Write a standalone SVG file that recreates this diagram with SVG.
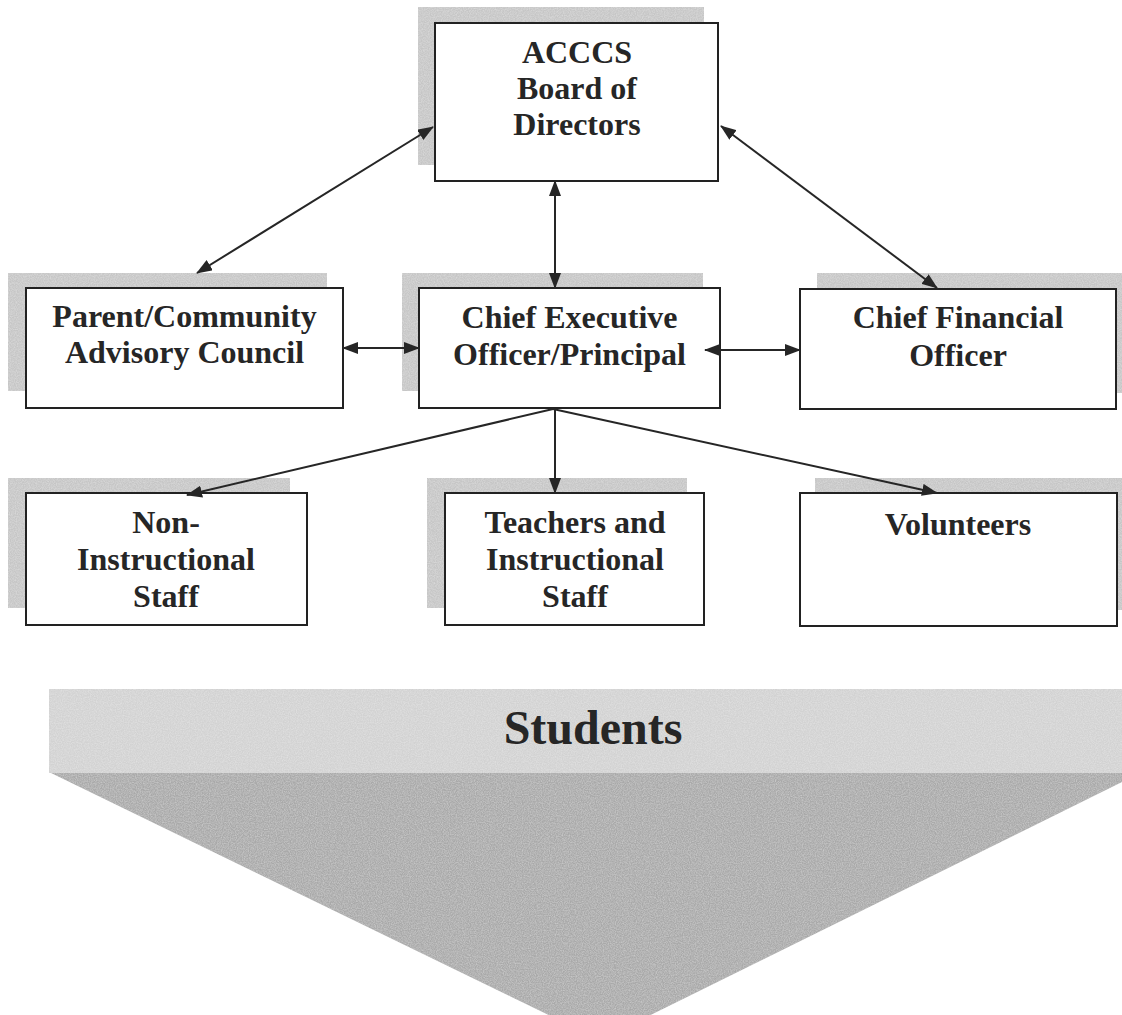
<svg xmlns="http://www.w3.org/2000/svg" width="1122" height="1015" viewBox="0 0 1122 1015">
  <style>
    .shadow { fill: #c6c6c6; filter: url(#grain); }
    .box { fill: #ffffff; stroke: #222222; stroke-width: 2; }
    .label { font-family: "Liberation Serif", "Times New Roman", serif; font-weight: bold; font-size: 32px; fill: #262626; text-anchor: middle; }
    .big { font-size: 48px; }
    .conn { stroke: #262626; stroke-width: 2; fill: none; marker-end: url(#arrow); marker-start: url(#arrow); }
    .one { marker-start: none; }
  </style>
  <defs>
    <marker id="arrow" viewBox="0 0 16 12" markerUnits="userSpaceOnUse" markerWidth="16" markerHeight="12" refX="15" refY="6" orient="auto-start-reverse">
      <path d="M0,0 L16,6 L0,12 z" fill="#262626"/>
    </marker>
    <filter id="grain" x="0" y="0" width="1" height="1">
      <feTurbulence type="fractalNoise" baseFrequency="0.85" numOctaves="2" seed="3" result="n"/>
      <feColorMatrix in="n" type="matrix" values="0 0 0 0 1  0 0 0 0 1  0 0 0 0 1  0 0 0 0.5 -0.15" result="a"/>
      <feComposite in="a" in2="SourceGraphic" operator="in" result="m"/>
      <feMerge><feMergeNode in="SourceGraphic"/><feMergeNode in="m"/></feMerge>
    </filter>
  </defs>
  <rect width="1122" height="1015" fill="#ffffff"/>

  <g id="students">
    <polygon points="49,772 1122,772 1122,782 600,1040" fill="#a9a9a9" filter="url(#grain)"/>
    <rect x="49" y="689" width="1073" height="84" fill="#d2d2d2" filter="url(#grain)"/>
    <text class="label big" x="593" y="744">Students</text>
  </g>

  <g id="board">
    <rect class="shadow" x="418" y="7" width="286" height="158"/>
    <rect class="box" x="435" y="23" width="283" height="158"/>
    <text class="label" x="577" y="63">ACCCS</text>
    <text class="label" x="577" y="99">Board of</text>
    <text class="label" x="577" y="135">Directors</text>
  </g>

  <g id="parent">
    <rect class="shadow" x="8" y="273" width="319" height="118"/>
    <rect class="box" x="26" y="288" width="317" height="120"/>
    <text class="label" x="184.5" y="327">Parent/Community</text>
    <text class="label" x="184.5" y="363">Advisory Council</text>
  </g>

  <g id="ceo">
    <rect class="shadow" x="402" y="273" width="301" height="118"/>
    <rect class="box" x="419" y="288" width="301" height="120"/>
    <text class="label" x="569.5" y="328">Chief Executive</text>
    <text class="label" x="569.5" y="365">Officer/Principal</text>
  </g>

  <g id="cfo">
    <rect class="shadow" x="817" y="273" width="305" height="120"/>
    <rect class="box" x="800" y="289" width="316" height="120"/>
    <text class="label" x="958" y="328">Chief Financial</text>
    <text class="label" x="958" y="366">Officer</text>
  </g>

  <g id="noninstructional">
    <rect class="shadow" x="8" y="478" width="282" height="130"/>
    <rect class="box" x="26" y="493" width="281" height="132"/>
    <text class="label" x="166" y="533">Non-</text>
    <text class="label" x="166" y="570">Instructional</text>
    <text class="label" x="166" y="607">Staff</text>
  </g>

  <g id="teachers">
    <rect class="shadow" x="427" y="478" width="260" height="130"/>
    <rect class="box" x="445" y="493" width="259" height="132"/>
    <text class="label" x="575" y="533">Teachers and</text>
    <text class="label" x="575" y="570">Instructional</text>
    <text class="label" x="575" y="607">Staff</text>
  </g>

  <g id="volunteers">
    <rect class="shadow" x="815" y="478" width="307" height="132"/>
    <rect class="box" x="800" y="493" width="317" height="133"/>
    <text class="label" x="958" y="535">Volunteers</text>
  </g>

  <g id="connectors">
    <line class="conn" x1="555" y1="181" x2="555" y2="288"/>
    <line class="conn" x1="433" y1="127" x2="197" y2="273"/>
    <line class="conn" x1="721" y1="126" x2="937" y2="288"/>
    <line class="conn" x1="343" y1="348" x2="419" y2="348"/>
    <line class="conn" x1="705" y1="350" x2="800" y2="350"/>
    <line class="conn one" x1="553" y1="409" x2="187" y2="495"/>
    <line class="conn one" x1="555" y1="409" x2="555" y2="493"/>
    <line class="conn one" x1="553" y1="409" x2="937" y2="493"/>
  </g>
</svg>
